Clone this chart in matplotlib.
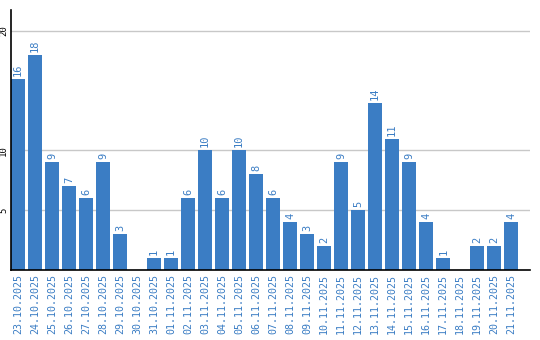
import matplotlib
matplotlib.use("Agg")
import matplotlib.pyplot as plt

dates = [
    "23.10.2025", "24.10.2025", "25.10.2025", "26.10.2025", "27.10.2025",
    "28.10.2025", "29.10.2025", "30.10.2025", "31.10.2025", "01.11.2025",
    "02.11.2025", "03.11.2025", "04.11.2025", "05.11.2025", "06.11.2025",
    "07.11.2025", "08.11.2025", "09.11.2025", "10.11.2025", "11.11.2025",
    "12.11.2025", "13.11.2025", "14.11.2025", "15.11.2025", "16.11.2025",
    "17.11.2025", "18.11.2025", "19.11.2025", "20.11.2025", "21.11.2025",
]
counts = [16, 18, 9, 7, 6, 9, 3, 0, 1, 1, 6, 10, 6, 10, 8, 6, 4, 3, 2, 9,
          5, 14, 11, 9, 4, 1, 0, 2, 2, 4]
y_ticks = [5, 10, 20]

BLUE = "#3b7dc4"
MONO = "DejaVu Sans Mono"

fig = plt.figure(figsize=(5.4, 3.4), dpi=100)
ax = fig.add_axes([11 / 540, 1 - 270 / 340, 519 / 540, 260 / 340])

x = list(range(len(counts)))
ax.bar(x, counts, width=0.82, color=BLUE, zorder=2)
for xi, v in zip(x, counts):
    if v > 0:
        ax.text(xi, v + 0.25, str(v), rotation=90, ha="center", va="bottom",
                color=BLUE, fontsize=7.5, family=MONO)

ax.set_xlim(-0.41, 30.1)
ax.set_ylim(0, 21.75)
ax.set_xticks(x)
ax.set_xticklabels(dates, rotation=90, color=BLUE, fontsize=7.2, family=MONO)
ax.set_yticks(y_ticks)
ax.set_yticklabels([str(t) for t in y_ticks], rotation=90, va="center",
                   fontsize=6.5, family=MONO)
ax.tick_params(axis="both", length=0, pad=3)
ax.tick_params(axis="y", pad=2)
ax.grid(axis="y", color="#c8c8c8", linewidth=1, zorder=0)
ax.set_axisbelow(True)
for side in ("top", "right"):
    ax.spines[side].set_visible(False)
ax.spines["left"].set_linewidth(1.2)
ax.spines["bottom"].set_linewidth(1.2)

fig.savefig("out.png", dpi=100, facecolor="white")
plt.close(fig)
